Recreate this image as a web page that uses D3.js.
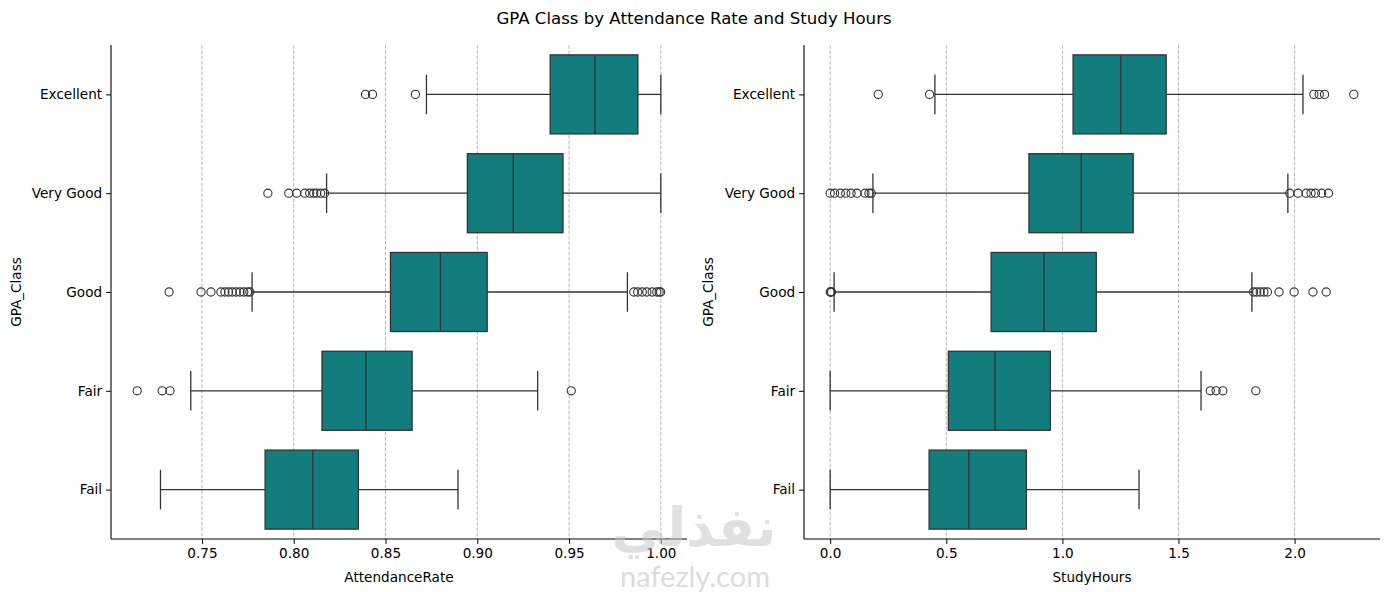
<!DOCTYPE html>
<html>
<head>
<meta charset="utf-8">
<script src="https://cdn.jsdelivr.net/npm/d3@7"></script>
<style>
  html, body { margin: 0; padding: 0; background: #fff; }
  svg { display: block; font-family: "DejaVu Sans", sans-serif; }
</style>
</head>
<body>
<svg id="chart" width="1389" height="592"></svg>
<script>
// ---------------- DATA ----------------
const categories = ["Excellent", "Very Good", "Good", "Fair", "Fail"];

// Panel 1: AttendanceRate
const attQ1     = [0.9397, 0.8946, 0.8527, 0.8154, 0.7844];
const attMedian = [0.9641, 0.9196, 0.8799, 0.8393, 0.8104];
const attQ3     = [0.9875, 0.9467, 0.9054, 0.8645, 0.8352];
const attWhiskerLo = [0.8723, 0.8179, 0.7773, 0.7439, 0.7274];
const attWhiskerHi = [1.0000, 1.0000, 0.9818, 0.9329, 0.8895];
const attOutliers = [
  [0.8391, 0.8429, 0.8663],
  [0.7859, 0.7973, 0.8016, 0.8060, 0.8087, 0.8109, 0.8125, 0.8147, 0.8168],
  [0.7321, 0.7495, 0.7549, 0.7603, 0.7625, 0.7645, 0.7665, 0.7686, 0.7707, 0.7728, 0.7748, 0.7761,
   0.9853, 0.9874, 0.9899, 0.9924, 0.9953, 0.9978, 0.9991, 0.9999],
  [0.7147, 0.7283, 0.7326, 0.9512],
  []
];
const attTicks = [0.75, 0.80, 0.85, 0.90, 0.95, 1.00];

// Panel 2: StudyHours
const shQ1     = [1.046, 0.856, 0.693, 0.509, 0.426];
const shMedian = [1.251, 1.081, 0.921, 0.710, 0.597];
const shQ3     = [1.447, 1.305, 1.146, 0.948, 0.845];
const shWhiskerLo = [0.451, 0.184, 0.017, 0.000, 0.000];
const shWhiskerHi = [2.036, 1.971, 1.816, 1.597, 1.330];
const shOutliers = [
  [0.207, 0.428, 2.083, 2.106, 2.129, 2.255],
  [0.000, 0.019, 0.044, 0.067, 0.090, 0.115, 0.150, 0.167, 0.177,
   1.979, 2.015, 2.050, 2.071, 2.090, 2.117, 2.146],
  [0.000, 0.003, 0.006, 1.823, 1.837, 1.852, 1.868, 1.883, 1.933, 1.998, 2.079, 2.136],
  [1.637, 1.662, 1.691, 1.833],
  []
];
const shTicks = [0.0, 0.5, 1.0, 1.5, 2.0];

// ---------------- LAYOUT ----------------
const svg = d3.select("#chart");
const boxFill = "#137c7c";
const lineCol = "#333333";
const plotTop = 45, plotBottom = 539;

svg.append("text")
  .attr("x", 694).attr("y", 24)
  .attr("text-anchor", "middle")
  .attr("font-size", "16.6px")
  .attr("fill", "#000")
  .text("GPA Class by Attendance Rate and Study Hours");

function panel(opts) {
  const { left, right, q1, med, q3, wlo, whi, outs, ticks, fmt, xlabel, ylabelX } = opts;
  const g = svg.append("g");
  const all = [].concat(wlo, whi, ...outs);
  const lo = d3.min(all), hi = d3.max(all), pad = (hi - lo) * 0.05;
  const x = d3.scaleLinear().domain([lo - pad, hi + pad]).range([left, right]);
  const yLin = d3.scaleLinear().domain([-0.5, categories.length - 0.5]).range([plotTop, plotBottom]);
  const y = d3.scaleBand().domain(categories).range([plotTop, plotBottom]).paddingInner(0.2).paddingOuter(0.1);
  const bw = y.bandwidth();
  const cy = c => y(c) + bw / 2;

  // grid
  g.append("g").selectAll("line").data(ticks).join("line")
    .attr("x1", d => x(d)).attr("x2", d => x(d))
    .attr("y1", plotTop).attr("y2", plotBottom)
    .attr("stroke", "#b0b0b0").attr("stroke-width", 0.9)
    .attr("stroke-dasharray", "3.7,1.6");

  const rows = categories.map((c, i) => ({ c, q1: q1[i], med: med[i], q3: q3[i], wlo: wlo[i], whi: whi[i], outs: outs[i] }));
  const rg = g.append("g").selectAll("g").data(rows).join("g");

  // whiskers
  rg.append("line").attr("x1", d => x(d.wlo)).attr("x2", d => x(d.q1))
    .attr("y1", d => cy(d.c)).attr("y2", d => cy(d.c))
    .attr("stroke", lineCol).attr("stroke-width", 1.3);
  rg.append("line").attr("x1", d => x(d.q3)).attr("x2", d => x(d.whi))
    .attr("y1", d => cy(d.c)).attr("y2", d => cy(d.c))
    .attr("stroke", lineCol).attr("stroke-width", 1.3);
  // caps
  rg.append("line").attr("x1", d => x(d.wlo)).attr("x2", d => x(d.wlo))
    .attr("y1", d => cy(d.c) - bw / 4).attr("y2", d => cy(d.c) + bw / 4)
    .attr("stroke", lineCol).attr("stroke-width", 1.3);
  rg.append("line").attr("x1", d => x(d.whi)).attr("x2", d => x(d.whi))
    .attr("y1", d => cy(d.c) - bw / 4).attr("y2", d => cy(d.c) + bw / 4)
    .attr("stroke", lineCol).attr("stroke-width", 1.3);
  // box
  rg.append("rect").attr("x", d => x(d.q1)).attr("width", d => x(d.q3) - x(d.q1))
    .attr("y", d => y(d.c)).attr("height", bw)
    .attr("fill", boxFill).attr("stroke", lineCol).attr("stroke-width", 1.3);
  // median
  rg.append("line").attr("x1", d => x(d.med)).attr("x2", d => x(d.med))
    .attr("y1", d => y(d.c)).attr("y2", d => y(d.c) + bw)
    .attr("stroke", lineCol).attr("stroke-width", 1.3);
  // outliers
  rg.selectAll("circle").data(d => d.outs.map(v => ({ c: d.c, v }))).join("circle")
    .attr("cx", d => x(d.v)).attr("cy", d => cy(d.c)).attr("r", 4.1)
    .attr("fill", "none").attr("stroke", lineCol).attr("stroke-width", 1.1);

  // axes
  const xa = g.append("g").attr("transform", `translate(0,${plotBottom})`)
    .call(d3.axisBottom(x).tickValues(ticks).tickFormat(fmt).tickSizeOuter(0).tickSize(4.9).tickPadding(4));
  xa.select(".domain").attr("stroke", "#000").attr("stroke-width", 1.1).attr("d", `M${left},0H${right}`);
  xa.selectAll(".tick line").attr("stroke", "#000").attr("stroke-width", 1);
  xa.selectAll(".tick text").attr("font-size", "13.6px").attr("fill", "#000").attr("font-family", "DejaVu Sans");

  const ya = g.append("g").attr("transform", `translate(${left},0)`)
    .call(d3.axisLeft(yLin).tickValues(d3.range(categories.length)).tickFormat(i => categories[i]).tickSizeOuter(0).tickSize(4.9).tickPadding(4));
  ya.select(".domain").attr("stroke", "#000").attr("stroke-width", 1.1).attr("d", `M0,${plotTop}V${plotBottom}`);
  ya.selectAll(".tick line").attr("stroke", "#000").attr("stroke-width", 1);
  ya.selectAll(".tick text").attr("font-size", "13.6px").attr("fill", "#000").attr("font-family", "DejaVu Sans");

  g.append("text").attr("x", (left + right) / 2).attr("y", 582)
    .attr("text-anchor", "middle").attr("font-size", "13.6px").attr("fill", "#000")
    .text(xlabel);
  g.append("text").attr("transform", `translate(${ylabelX},${(plotTop + plotBottom) / 2}) rotate(-90)`)
    .attr("text-anchor", "middle").attr("font-size", "13.6px").attr("fill", "#000")
    .text("GPA_Class");
}

panel({ left: 111, right: 687, q1: attQ1, med: attMedian, q3: attQ3, wlo: attWhiskerLo, whi: attWhiskerHi,
        outs: attOutliers, ticks: attTicks, fmt: d3.format(".2f"), xlabel: "AttendanceRate", ylabelX: 21 });
panel({ left: 804, right: 1380, q1: shQ1, med: shMedian, q3: shQ3, wlo: shWhiskerLo, whi: shWhiskerHi,
        outs: shOutliers, ticks: shTicks, fmt: d3.format(".1f"), xlabel: "StudyHours", ylabelX: 713 });

// watermark
const wm = svg.append("g").attr("opacity", 0.55).attr("pointer-events", "none");
wm.append("text").attr("x", 694).attr("y", 546).attr("text-anchor", "middle")
  .attr("font-size", "54px").attr("font-weight", "bold").attr("fill", "#c8c8c8")
  .attr("font-family", "DejaVu Sans").attr("direction", "rtl")
  .text("نفذلي");
wm.append("text").attr("x", 695).attr("y", 587).attr("text-anchor", "middle")
  .attr("font-size", "29px").attr("fill", "#c0c0c0").attr("font-family", "Lato, 'Open Sans', sans-serif")
  .text("nafezly.com");
</script>
</body>
</html>
